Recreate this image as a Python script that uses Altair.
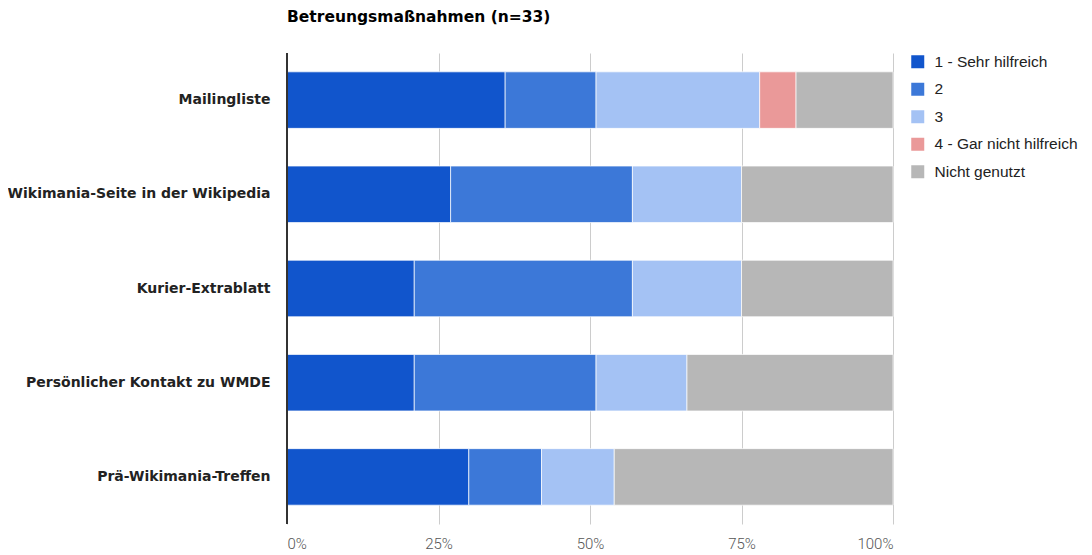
import altair as alt
import pandas as pd

categories = [
    "Mailingliste",
    "Wikimania-Seite in der Wikipedia",
    "Kurier-Extrablatt",
    "Persönlicher Kontakt zu WMDE",
    "Prä-Wikimania-Treffen",
]
levels = ["1 - Sehr hilfreich", "2", "3", "4 - Gar nicht hilfreich", "Nicht genutzt"]
colors = ["#1155cc", "#3c78d8", "#a4c2f4", "#ea9999", "#b7b7b7"]

s1 = [36, 27, 21, 21, 30]
s2 = [15, 30, 36, 30, 12]
s3 = [27, 18, 18, 15, 12]
s4 = [6, 0, 0, 0, 0]
s5 = [16, 25, 25, 34, 46]
series = [s1, s2, s3, s4, s5]

rows = []
for li, (lvl, vals) in enumerate(zip(levels, series)):
    for c, v in zip(categories, vals):
        if v > 0:
            rows.append({"Kategorie": c, "Bewertung": lvl, "Anteil": v, "ord": li})
df = pd.DataFrame(rows)

FONT = "Liberation Sans"
BOLD = "DejaVu Sans"

bars = alt.Chart(df).mark_bar(stroke="white", strokeWidth=1, strokeOpacity=0.7).encode(
    y=alt.Y("Kategorie:N", sort=categories, title=None,
            scale=alt.Scale(paddingInner=0.4, paddingOuter=0.2),
            axis=alt.Axis(labelFont=BOLD, labelFontWeight="bold", labelFontSize=14,
                          labelColor="#222222", labelPadding=17, ticks=False, domain=False,
                          labelLimit=400)),
    x=alt.X("Anteil:Q", stack="zero", title=None,
            scale=alt.Scale(domain=[0, 100], nice=False),
            axis=alt.Axis(values=[0, 25, 50, 75, 100], labelExpr="datum.value + '%'",
                          labelFont="Roboto", labelFontSize=15, labelFontWeight=300,
                          labelColor="#555555",
                          labelPadding=12, ticks=False, domain=False,
                          gridColor="#cccccc", gridWidth=1)),
    color=alt.Color("Bewertung:N", scale=alt.Scale(domain=levels, range=colors),
                    legend=alt.Legend(title=None, orient="none", legendX=623, legendY=1,
                                      symbolType="square", symbolSize=169,
                                      symbolStrokeWidth=0, symbolOpacity=1,
                                      labelFont=FONT, labelFontSize=15.5,
                                      labelColor="#222222", rowPadding=10.5,
                                      labelOffset=9, labelLimit=300)),
    order=alt.Order("ord:Q"),
)

zero_rule = alt.Chart(pd.DataFrame({"x": [0]})).mark_rule(color="#333333", strokeWidth=2).encode(
    x="x:Q"
)

chart = alt.layer(bars, zero_rule).properties(
    width=606,
    height=471,
    padding={"left": 279, "top": 45, "right": 190, "bottom": 28},
    autosize=alt.AutoSizeParams(type="none"),
    title=alt.Title("Betreungsmaßnahmen (n=33)", anchor="start", frame="group", font=BOLD,
                    fontSize=15.5, fontWeight="bold", color="#000000", offset=27),
).configure_view(stroke=None)

chart.save("out.html", embed_options={"renderer": "svg", "actions": False})
